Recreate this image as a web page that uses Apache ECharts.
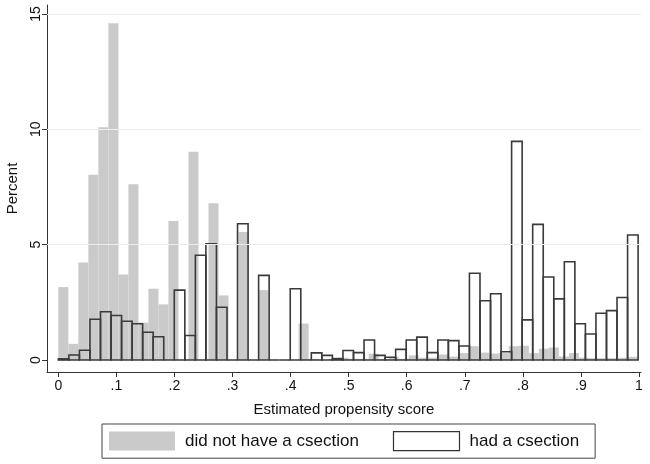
<!DOCTYPE html>
<html>
<head>
<meta charset="utf-8">
<script src="https://cdn.jsdelivr.net/npm/echarts@6/dist/echarts.min.js"></script>
<style>
html,body{margin:0;padding:0;background:#fff;}
#chart{width:650px;height:464px;}
</style>
</head>
<body>
<div id="chart"></div>
<script>
// Histogram bin definitions (estimated propensity score)
var grayStart = 0;
var grayWidth = 1 / 58;
var grayPct = [3.16,0.70,4.23,8.03,10.09,14.6,3.71,7.62,1.62,3.09,2.41,6.03,0,9.03,0,6.80,2.80,0,5.55,0,3.03,0,0,0,1.58,
  0.05,0,0.05,0.10,0.05,0.05,0.27,0.05,0.14,0.05,0.20,0.10,0.10,0.24,0.15,0.30,0.60,0.32,0.28,0.30,0.60,0.62,0.30,0.49,0.54,0.15,0.30,0.10,0.08,0.08,0.08,0.10,0.14];

var outlineStart = 0;
var outlineWidth = 0.018155;
var outlinePct = [0.05,0.22,0.42,1.77,2.09,1.93,1.68,1.57,1.20,1.01,0,3.03,1.06,4.54,5.04,2.29,0,5.91,0,3.67,0,0,3.09,0,
  0.31,0.20,0.06,0.41,0.32,0.87,0.20,0.12,0.46,0.87,0.99,0.32,0.87,0.84,0.61,3.76,2.57,2.87,0.36,9.48,1.74,5.88,3.60,2.65,4.26,1.57,1.13,2.03,2.14,2.71,5.42];

var xTicks = [0,0.1,0.2,0.3,0.4,0.5,0.6,0.7,0.8,0.9,1];
var xTickLabels = ['0','.1','.2','.3','.4','.5','.6','.7','.8','.9','1'];
var yTicks = [0,5,10,15];
var yTickLabels = ['0','5','10','15'];
var gridValues = [5,10,15];

var seriesNames = ['did not have a csection','had a csection'];

function bins(start, width, vals){
  return vals.map(function(v,i){ return [start + i*width, start + (i+1)*width, v]; });
}

var FONT = '"Liberation Sans", Arial, Helvetica, sans-serif';
var chart = echarts.init(document.getElementById('chart'), null, {renderer:'canvas'});

function makeRender(fill, stroke, lw){
  return function(params, api){
    var p0 = api.coord([api.value(0), api.value(2)]);
    var p1 = api.coord([api.value(1), 0]);
    return {
      type:'rect',
      shape:{x:p0[0], y:p0[1], width:p1[0]-p0[0], height:p1[1]-p0[1]},
      style:{fill:fill, stroke:stroke, lineWidth:lw}
    };
  };
}

var option = {
  backgroundColor:'#fff',
  animation:false,
  grid:{left:47, right:9, top:5, bottom:92, containLabel:false, outerBoundsMode:'none'},
  xAxis:{
    type:'value', min:-0.0195, max:1.0035,
    axisLine:{show:true, onZero:false, lineStyle:{color:'#333', width:1}},
    axisTick:{show:true, customValues:xTicks, length:5, lineStyle:{color:'#333'}},
    axisLabel:{customValues:xTicks, margin:7, color:'#111', fontSize:14, fontFamily:FONT,
      formatter:function(v){ var i = xTicks.findIndex(function(t){return Math.abs(t-v)<1e-9;}); return i>=0?xTickLabels[i]:''; }},
    splitLine:{show:false},
    name:'Estimated propensity score', nameLocation:'middle', nameGap:30,
    nameTextStyle:{color:'#111', fontSize:15, fontFamily:FONT}
  },
  yAxis:{
    type:'value', min:-0.52, max:15.39,
    axisLine:{show:true, onZero:false, lineStyle:{color:'#333', width:1}},
    axisTick:{show:true, customValues:yTicks, length:5, lineStyle:{color:'#333'}},
    axisLabel:{customValues:yTicks, rotate:90, margin:4, color:'#111', fontSize:14, fontFamily:FONT,
      formatter:function(v){ var i = yTicks.findIndex(function(t){return Math.abs(t-v)<1e-9;}); return i>=0?yTickLabels[i]:''; }},
    splitLine:{show:false},
    name:'Percent', nameLocation:'middle', nameGap:27, nameRotate:90,
    nameTextStyle:{color:'#111', fontSize:15, fontFamily:FONT}
  },
  legend:{
    left:102, top:424,
    padding:[7,16,7,7],
    borderColor:'#444', borderWidth:1,
    itemWidth:66, itemHeight:19, itemGap:34,
    selectedMode:false,
    textStyle:{color:'#111', fontSize:17, fontFamily:FONT, padding:[0,0,0,5]},
    data:[
      {name:seriesNames[0], icon:'rect', itemStyle:{color:'#cacaca', borderWidth:0}},
      {name:seriesNames[1], icon:'rect', itemStyle:{color:'#fff', borderColor:'#333', borderWidth:1.2}}
    ]
  },
  series:[
    {
      name:seriesNames[0], type:'custom', renderItem:makeRender('#cacaca', null, 0),
      encode:{x:[0,1], y:2}, data:bins(grayStart, grayWidth, grayPct),
      itemStyle:{color:'#cacaca'}, z:2,
      markLine:{silent:true, symbol:'none', label:{show:false},
        lineStyle:{color:'#ececec', width:1, type:'solid'},
        data:gridValues.map(function(v){return {yAxis:v};})}
    },
    {
      name:seriesNames[1], type:'custom', renderItem:makeRender(null, '#3a3a3a', 1.6),
      encode:{x:[0,1], y:2}, data:bins(outlineStart, outlineWidth, outlinePct),
      itemStyle:{color:'#fff', borderColor:'#333'}, z:3
    }
  ]
};
chart.setOption(option);
</script>
</body>
</html>
